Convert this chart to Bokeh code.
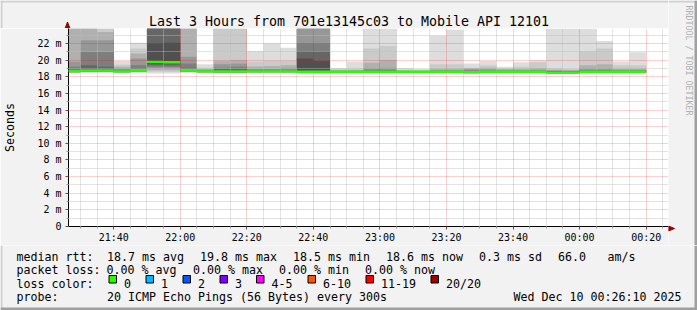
import numpy as np
import pandas as pd
from bokeh.plotting import figure
from bokeh.layouts import column, row
from bokeh.models import Range1d, FixedTicker
from bokeh.core.properties import value
from bokeh.embed import file_html
from bokeh.resources import INLINE

# ---------------- data ----------------
title_text = "Last 3 Hours from 701e13145c03 to Mobile API 12101"
y_axis_title = "Seconds"
watermark = "RRDTOOL / TOBI OETIKER"

slot_start = pd.date_range("2025-12-09 21:25", periods=35, freq="5min")

median_rtt = [18.70, 18.75, 18.75, 18.65, 18.80, 19.80, 19.75, 18.80, 18.65, 18.65,
              18.65, 18.65, 18.65, 18.65, 18.60, 18.60, 18.60, 18.60, 18.60, 18.60,
              18.60, 18.60, 18.60, 18.60, 18.55, 18.60, 18.60, 18.60, 18.60, 18.50,
              18.50, 18.60, 18.60, 18.60, 18.60]
ping_min = [18.45, 18.50, 18.50, 18.45, 18.50, 18.40, 18.40, 18.50, 18.45, 18.40,
            18.40, 18.45, 18.45, 18.45, 18.40, 18.40, 18.45, 18.45, 18.45, 18.45,
            18.45, 18.45, 18.45, 18.45, 18.40, 18.45, 18.45, 18.45, 18.45, 18.35,
            18.35, 18.45, 18.45, 18.45, 18.45]
# upper edges of the smoke layers, outermost (lightest) to innermost (darkest)
smoke_l1 = [27.0, 28.0, 26.0, 19.9, 22.1, 29.0, 28.5, 27.0, 19.5, 26.0, 25.5, 21.1, 22.0, 21.5,
            28.0, 27.5, 19.05, 19.85, 26.0, 26.5, 19.05, 18.95, 22.95, 23.65, 19.6, 19.9, 19.2,
            19.75, 19.95, 27.0, 26.5, 26.0, 22.3, 19.85, 20.95]
smoke_l2 = [26.0, 26.5, 25.0, 19.45, 21.4, 28.0, 27.5, 25.5, 19.1, 25.0, 24.8, 19.8, 19.9, 19.9,
            27.0, 26.5, 18.9, 19.0, 21.4, 21.7, 18.85, 18.8, 19.5, 19.5, 19.1, 19.4, 19.0,
            19.2, 19.75, 19.05, 18.95, 21.1, 21.4, 19.4, 19.4]
smoke_l3 = [25.0, 25.0, 23.4, 19.2, 20.8, 27.0, 26.5, 24.5, 18.95, 19.9, 20.0, 19.25, 19.3, 19.4,
            26.0, 25.5, 18.8, 18.8, 19.7, 20.0, 18.75, 18.72, 19.0, 19.0, 19.05, 19.1, 18.95,
            18.95, 19.05, 18.85, 18.8, 19.4, 19.5, 19.0, 19.0]
smoke_l4 = [19.8, 22.4, 22.4, 19.0, 20.2, 26.0, 25.5, 20.4, 18.85, 19.5, 19.6, 18.95, 18.95, 19.05,
            25.0, 24.5, 18.75, 18.75, 19.05, 19.1, 18.7, 18.68, 18.8, 18.8, 18.9, 18.9, 18.8,
            18.8, 18.85, 18.75, 18.72, 19.0, 19.0, 18.85, 18.85]
smoke_l5 = [19.2, 21.0, 21.0, 18.85, 19.4, 25.5, 25.0, 19.6, 18.75, 19.1, 19.2, 18.85, 18.85, 18.85,
            22.0, 22.0, 18.7, 18.7, 18.85, 18.85, 18.68, 18.66, 18.72, 18.72, 18.75, 18.75, 18.72,
            18.72, 18.75, 18.7, 18.68, 18.8, 18.8, 18.75, 18.75]
smoke_l6 = [18.9, 19.4, 19.2, 18.75, 19.05, 25.0, 24.5, 19.1, 18.7, 18.9, 18.95, 18.75, 18.75, 18.75,
            21.1, 21.1, 18.68, 18.68, 18.75, 18.75, 18.66, 18.64, 18.68, 18.68, 18.68, 18.7, 18.68,
            18.68, 18.7, 18.65, 18.62, 18.72, 18.72, 18.7, 18.7]
smoke_l7 = [18.8, 19.0, 18.95, 18.7, 18.9, 22.0, 22.1, 18.95, 18.68, 18.8, 18.8, 18.7, 18.7, 18.7,
            20.2, 19.9, 18.65, 18.65, 18.7, 18.7, 18.64, 18.62, 18.65, 18.65, 18.62, 18.65, 18.64,
            18.64, 18.65, 18.6, 18.58, 18.66, 18.66, 18.65, 18.65]

x_tick_times = ["2025-12-09 21:40", "2025-12-09 22:00", "2025-12-09 22:20", "2025-12-09 22:40",
                "2025-12-09 23:00", "2025-12-09 23:20", "2025-12-09 23:40", "2025-12-10 00:00",
                "2025-12-10 00:20"]
x_tick_labels = ["21:40", "22:00", "22:20", "22:40", "23:00", "23:20", "23:40", "00:00", "00:20"]
y_ticks = [0, 2, 4, 6, 8, 10, 12, 14, 16, 18, 20, 22]
y_tick_labels = ["0", "2 m", "4 m", "6 m", "8 m", "10 m", "12 m", "14 m", "16 m", "18 m", "20 m", "22 m"]

rtt_head = "median rtt:"
rtt_items = ["18.7 ms avg", "19.8 ms max", "18.5 ms min", "18.6 ms now", "0.3 ms sd", "66.0", "am/s"]
loss_head = "packet loss:"
loss_items = ["0.00 % avg", "0.00 % max", "0.00 % min", "0.00 % now"]
color_head = "loss color:"
loss_labels = ["0", "1", "2", "3", "4-5", "6-10", "11-19", "20/20"]
loss_colors = ["#26ff00", "#00b8ff", "#0059ff", "#7e00ff", "#ff00ff", "#ff5500", "#ff0000", "#a10000"]
probe_head = "probe:"
probe_text = "20 ICMP Echo Pings (56 Bytes) every 300s"
date_text = "Wed Dec 10 00:26:10 2025"

# ---------------- style / layout ----------------
W, H = 697, 310
FL, FR, FT, FB = 67, 668, 28, 228
AXIS_H = 17                      # room for the time labels under the frame
LEG_TOP = FB + AXIS_H            # 245
BG = "#f2f2f2"
MONO = "DejaVu Sans Mono"
LEG_FS = "11.63px"
smoke_colors = ["#dddddd", "#cacaca", "#b0b0b0", "#979797", "#7e7e7e", "#666666", "#505050"]
ARROW = "#990000"
SHADE_A, SHADE_B = "#d0d0d0", "#a0a0a0"


def pixel_fig(w, h):
    f = figure(width=w, height=h, output_backend="svg", toolbar_location=None,
               x_range=Range1d(0, w), y_range=Range1d(h, 0),
               x_axis_location=None, y_axis_location=None,
               min_border=0, min_border_left=0, min_border_right=0,
               min_border_top=0, min_border_bottom=0)
    f.frame_align = False
    f.grid.visible = False
    f.outline_line_color = None
    f.background_fill_color = BG
    f.border_fill_color = BG
    return f


x_start = pd.Timestamp("2025-12-09 21:26:25")
x_end = pd.Timestamp("2025-12-10 00:26:43")

p = figure(width=FR, height=FB - FT + AXIS_H, output_backend="svg", toolbar_location=None,
           x_axis_type="datetime", x_range=Range1d(x_start, x_end), y_range=Range1d(0, 23.81),
           min_border_left=FL, min_border_right=0, min_border_top=0, min_border_bottom=AXIS_H)
p.frame_align = False
p.background_fill_color = "white"
p.border_fill_color = BG
p.outline_line_color = None

# ---------------- smoke ----------------
step = pd.Timedelta(minutes=5)
x_edges = list(slot_start) + [slot_start[-1] + step]
x_edges[0] = max(x_edges[0], x_start)          # clip the partial first slot to the frame
med = np.array(median_rtt)
lo = np.array(ping_min)
layers = [smoke_l1, smoke_l2, smoke_l3, smoke_l4, smoke_l5, smoke_l6, smoke_l7]
n_layers = len(layers)
for k, (top_edge, col) in enumerate(zip(layers, smoke_colors)):
    bot = lo + (med - lo) * k / n_layers
    top_edge = np.minimum(np.array(top_edge), 23.81)
    y1 = list(bot) + [bot[-1]]
    y2 = list(top_edge) + [top_edge[-1]]
    p.varea_step(x=x_edges, y1=y1, y2=y2, step_mode="after", fill_color=col, fill_alpha=1.0)

half = 0.145
g = p.varea_step(x=x_edges, y1=list(med - half) + [med[-1] - half],
                 y2=list(med + half) + [med[-1] + half], step_mode="after",
                 fill_color=loss_colors[0], fill_alpha=1.0)
g.level = "overlay"

# ---------------- axes & grid ----------------
xt_ms = [pd.Timestamp(t).value // 10**6 for t in x_tick_times]
minor_ms = [pd.Timestamp(t).value // 10**6 for t in
            pd.date_range("2025-12-09 21:30", "2025-12-10 00:25", freq="5min")
            if pd.Timestamp(t).value // 10**6 not in xt_ms]
xticker = FixedTicker(ticks=xt_ms, minor_ticks=minor_ms)
p.xaxis.ticker = xticker
p.xgrid.ticker = xticker
p.xaxis.major_label_overrides = {t: lab for t, lab in zip(xt_ms, x_tick_labels)}

yticker = FixedTicker(ticks=y_ticks, minor_ticks=[v + 1 for v in y_ticks])
p.yaxis.ticker = yticker
p.ygrid.ticker = yticker
p.yaxis.major_label_overrides = {t: lab for t, lab in zip(y_ticks, y_tick_labels)}

for ax in (p.xaxis[0], p.yaxis[0]):
    ax.axis_line_color = "black"
    ax.axis_line_width = 1
    ax.major_tick_in = 0
    ax.major_tick_out = 3
    ax.minor_tick_in = 0
    ax.minor_tick_out = 2
    ax.major_tick_line_color = "#555555"
    ax.minor_tick_line_color = "#999999"
    ax.major_label_text_font = MONO
    ax.major_label_text_font_size = "9.97px"
    ax.major_label_text_color = "black"
p.xaxis.major_label_standoff = 2
p.yaxis.major_label_standoff = 4
p.yaxis.axis_label = y_axis_title
p.yaxis.axis_label_text_font = MONO
p.yaxis.axis_label_text_font_size = LEG_FS
p.yaxis.axis_label_text_font_style = "normal"
p.yaxis.axis_label_text_color = "black"
p.yaxis.axis_label_standoff = 17

for gr in (p.xgrid[0], p.ygrid[0]):
    gr.grid_line_color = "#ff0000"
    gr.grid_line_alpha = 0.38
    gr.grid_line_dash = "1 1"
    gr.minor_grid_line_color = "#bcbcbc"
    gr.minor_grid_line_alpha = 0.85
    gr.minor_grid_line_dash = "1 1"
    gr.level = "guide"

# text glyphs sit a little low with an "alphabetic" baseline; lift them by this share of the size
LIFT = 0.21

# ---------------- title strip ----------------
top = pixel_fig(FR, FT)
top.text(x=[W / 2], y=[24 - LIFT * 13.29], text=[title_text], text_font=value(MONO),
         text_font_size=value("13.29px"), text_align="center", text_baseline="alphabetic",
         text_color="black")
top.patch(x=[64.5, 69.5, 67.0], y=[28, 28, 21.5], fill_color=ARROW, line_color=ARROW)
top.quad(left=[0, 0], right=[FR, 2], top=[0, 0], bottom=[2, FT], fill_color=SHADE_A, line_color=None)

# ---------------- right strip (watermark) ----------------
right = pixel_fig(W - FR, LEG_TOP)
right.text(x=[688 - FR], y=[60], text=[watermark], text_font=value(MONO), text_font_size=value("8.3px"),
           text_align="center", text_baseline="middle", text_color="#b0b0b0", angle=-np.pi / 2)
right.patch(x=[0.0, 0.0, 6.0], y=[225.5, 230.5, 228.0], fill_color=ARROW, line_color=ARROW)
right.quad(left=[0, W - FR - 3], right=[W - FR, W - FR], top=[0, 0], bottom=[2, LEG_TOP],
           fill_color=[SHADE_A, SHADE_B], line_color=None)

# ---------------- legend strip ----------------
leg = pixel_fig(W, H - LEG_TOP)


def ly(Y):
    return Y - LEG_TOP - LIFT * 11.63


rows_y = [258.5, 272.0, 285.5, 299.0]
lx, lyy, lt = [], [], []
lx += [16]; lyy += [ly(rows_y[0])]; lt += [rtt_head]
for t, X in zip(rtt_items, [106.5, 199.5, 292.5, 385.5, 478.5, 557.5, 607.0]):
    lx.append(X); lyy.append(ly(rows_y[0])); lt.append(t)
lx += [16]; lyy += [ly(rows_y[1])]; lt += [loss_head]
for t, X in zip(loss_items, [106.0, 192.5, 278.5, 364.5]):
    lx.append(X); lyy.append(ly(rows_y[1])); lt.append(t)
lx += [16]; lyy += [ly(rows_y[2])]; lt += [color_head]
box_x = [108.5, 145.5, 182.5, 219.5, 256.0, 307.5, 365.5, 430.5]
for lab, X in zip(loss_labels, box_x):
    lx.append(X + 15.0); lyy.append(ly(rows_y[2])); lt.append(lab)
lx += [16, 106.5]; lyy += [ly(rows_y[3])] * 2; lt += [probe_head, probe_text]
leg.text(x=lx, y=lyy, text=lt, text_font=value(MONO), text_font_size=value(LEG_FS),
         text_align="left", text_baseline="alphabetic", text_color="black")
leg.text(x=[681], y=[ly(rows_y[3])], text=[date_text], text_font=value(MONO),
         text_font_size=value(LEG_FS), text_align="right", text_baseline="alphabetic", text_color="black")
leg.quad(left=box_x, right=[b + 7.5 for b in box_x], top=[275.0 - LEG_TOP] * 8,
         bottom=[282.5 - LEG_TOP] * 8, fill_color=loss_colors, line_color="black", line_width=1)
leg.quad(left=[0, W - 3, 0], right=[2, W, W], top=[0, 0, H - LEG_TOP - 3], bottom=[H - LEG_TOP] * 3,
         fill_color=[SHADE_A, SHADE_B, SHADE_B], line_color=None)

layout = column(row(column(top, p, spacing=0), right, spacing=0), leg, spacing=0)
open("out.html", "w").write(file_html(layout, INLINE))
